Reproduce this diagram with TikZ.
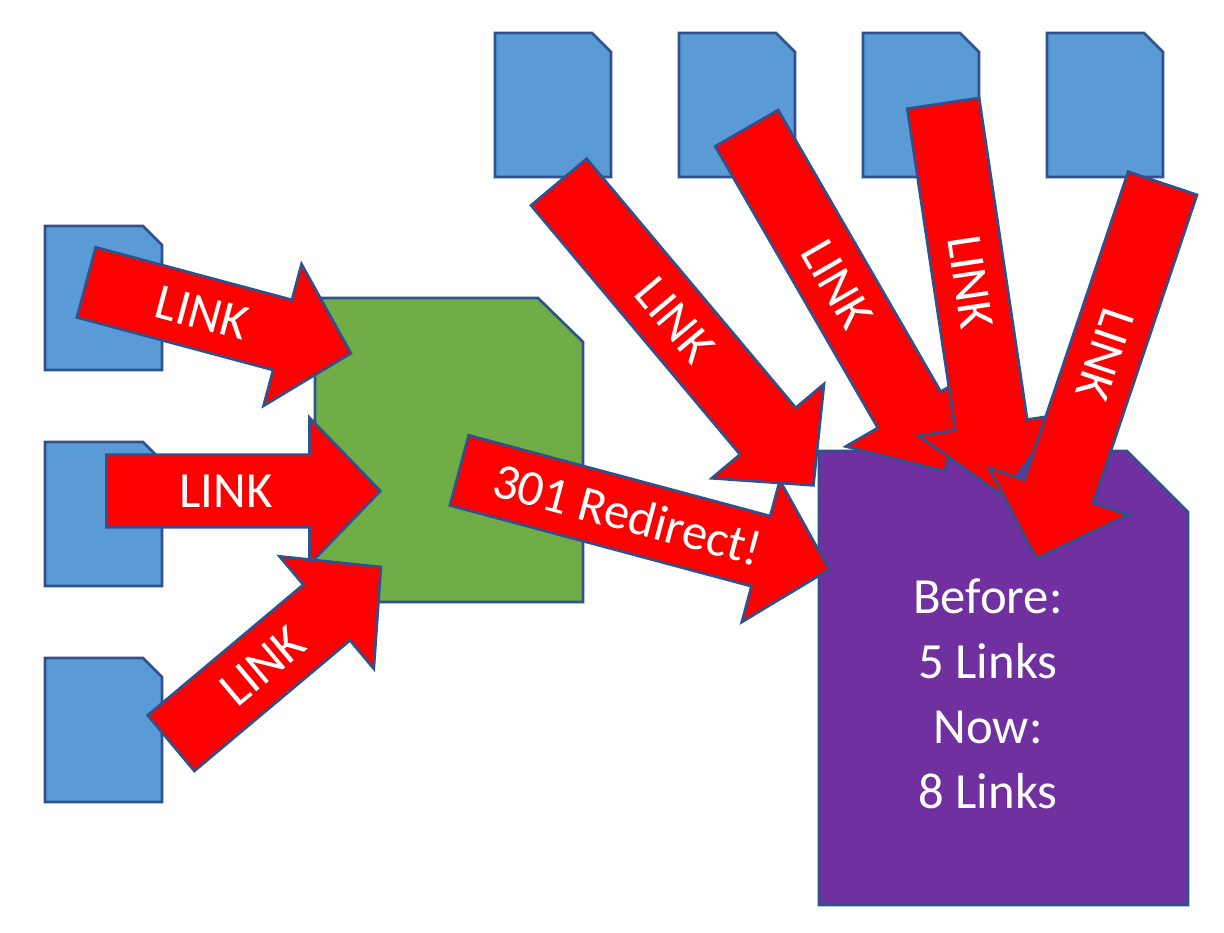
\documentclass[tikz,border=0pt]{standalone}
\usepackage{fontspec}
\setmainfont{Carlito}
\usetikzlibrary{shapes.arrows}
\definecolor{pageblue}{HTML}{5B9BD5}
\definecolor{pagegreen}{HTML}{70AD47}
\definecolor{pagepurple}{HTML}{7030A0}
\definecolor{edgeblue}{HTML}{2F528F}

\begin{document}
\begin{tikzpicture}[x=0.75pt,y=-0.75pt,
  page/.style={draw=edgeblue,line width=2pt},
  link/.style={single arrow,draw=edgeblue,fill=red,line width=2pt,text=white,
    font=\fontsize{38}{46}\selectfont,anchor=tail,
    single arrow head extend=27.75pt,single arrow tip angle=92,
    inner xsep=0pt,inner ysep=0pt,text height=38.25pt,text depth=14.25pt,
    minimum height=205.5pt}]
\useasboundingbox[fill=white] (0,0) rectangle (1224,932);

% pages on the left
\draw[page,fill=pageblue] (45,226) -- (143,226) -- (162,245) -- (162,370) -- (45,370) -- cycle;
\draw[page,fill=pageblue] (45,442) -- (143,442) -- (162,461) -- (162,586) -- (45,586) -- cycle;
\draw[page,fill=pageblue] (45,658) -- (143,658) -- (162,677) -- (162,802) -- (45,802) -- cycle;
% pages on top
\draw[page,fill=pageblue] (495,33) -- (592,33) -- (611,52) -- (611,177) -- (495,177) -- cycle;
\draw[page,fill=pageblue] (679,33) -- (776,33) -- (795,52) -- (795,177) -- (679,177) -- cycle;
\draw[page,fill=pageblue] (863,33) -- (960,33) -- (979,52) -- (979,177) -- (863,177) -- cycle;
\draw[page,fill=pageblue] (1047,33) -- (1144,33) -- (1163,52) -- (1163,177) -- (1047,177) -- cycle;

% old page and new page
\draw[page,fill=pagegreen] (315,298) -- (538,298) -- (583,342) -- (583,602) -- (315,602) -- cycle;
\draw[page,fill=pagepurple] (819,451) -- (1127,451) -- (1188,512) -- (1188,905) -- (819,905) -- cycle;
\node[text=white,font=\fontsize{38}{48.75}\selectfont,align=center] (tally) at (988,694)
  {Before:\\5 Links\\Now:\\8 Links};

% links to the old page
\node[link,rotate=-15] (l1) at (85,282) {LINK};
\node[link] (l2) at (105,491) {LINK};
\node[link,rotate=40] (l3) at (170,744) {LINK};

% redirect
\node[link,rotate=-15,minimum height=287.25pt] (redirect) at (458,470) {301 Redirect!};

% links to the new page
\node[link,rotate=-50,minimum height=297pt] (l4) at (558,181) {LINK};
\node[link,rotate=-60,minimum height=297pt] (l5) at (746,127) {LINK};
\node[link,rotate=-81.5,minimum height=297pt] (l6) at (943,102) {LINK};
\node[link,rotate=-108.6,minimum height=297pt] (l7) at (1163,182) {LINK};
\end{tikzpicture}
\end{document}
